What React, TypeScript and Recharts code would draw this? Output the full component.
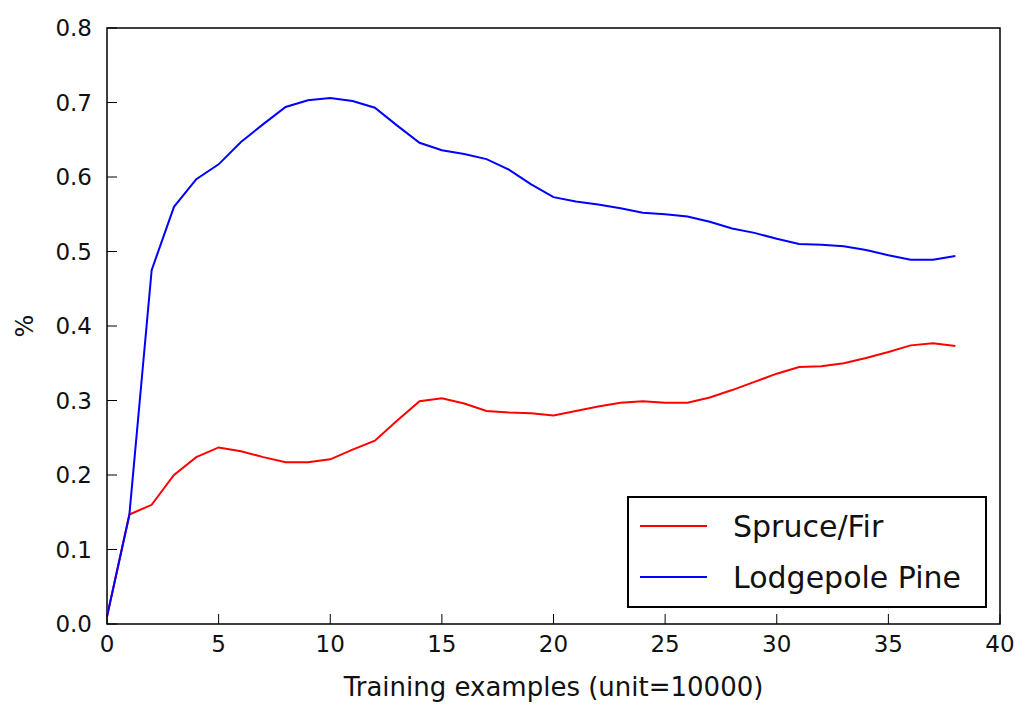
import { LineChart, Line, XAxis, YAxis, ReferenceArea, Legend } from 'recharts'

const steps = [
  0, 1, 2, 3, 4, 5, 6, 7, 8, 9, 10, 11, 12, 13, 14, 15, 16, 17, 18, 19,
  20, 21, 22, 23, 24, 25, 26, 27, 28, 29, 30, 31, 32, 33, 34, 35, 36, 37, 38,
]
const spruceFir = [
  0.01, 0.147, 0.16, 0.2, 0.224, 0.237, 0.232, 0.224, 0.217, 0.217, 0.221, 0.234, 0.246,
  0.273, 0.299, 0.303, 0.296, 0.286, 0.284, 0.283, 0.28, 0.286, 0.292, 0.297, 0.299, 0.297,
  0.297, 0.304, 0.314, 0.325, 0.336, 0.345, 0.346, 0.35, 0.357, 0.365, 0.374, 0.377, 0.373,
]
const lodgepolePine = [
  0.01, 0.146, 0.475, 0.56, 0.597, 0.617, 0.647, 0.671, 0.694, 0.703, 0.706, 0.702, 0.693,
  0.669, 0.646, 0.636, 0.631, 0.624, 0.61, 0.59, 0.573, 0.567, 0.563, 0.558, 0.552, 0.55,
  0.547, 0.54, 0.531, 0.525, 0.517, 0.51, 0.509, 0.507, 0.502, 0.495, 0.489, 0.489, 0.494,
]
const seriesNames = ['Spruce/Fir', 'Lodgepole Pine']
const xTicks = [0, 5, 10, 15, 20, 25, 30, 35, 40]
const yTicks = [0, 0.1, 0.2, 0.3, 0.4, 0.5, 0.6, 0.7, 0.8]

const FONT = '"DejaVu Sans", sans-serif'
const TEXT = '#111'

const data = steps.map((s, i) => ({
  step: s,
  [seriesNames[0]]: spruceFir[i],
  [seriesNames[1]]: lodgepolePine[i],
}))

// matplotlib-style legend box, lower right (keep plotting order)
function renderLegend(props: any) {
  const items = [...(props.payload || [])].sort(
    (a: any, b: any) => seriesNames.indexOf(a.value) - seriesNames.indexOf(b.value)
  )
  return (
    <div
      style={{
        position: 'relative',
        width: 360,
        height: 112,
        border: '2px solid #000',
        boxSizing: 'border-box',
        background: '#fff',
        fontFamily: FONT,
        fontSize: 30,
        color: TEXT,
      }}
    >
      {items.map((it: any, i: number) => (
        <div
          key={it.value}
          style={{
            position: 'absolute',
            left: 0,
            top: 8 + i * 51,
            height: 40,
            display: 'flex',
            alignItems: 'center',
            whiteSpace: 'nowrap',
          }}
        >
          <svg width={104} height={10} style={{ display: 'block' }}>
            <line x1={11} y1={5} x2={78} y2={5} stroke={it.color} strokeWidth={2} />
          </svg>
          <span>{it.value}</span>
        </div>
      ))}
    </div>
  )
}

function YLabel(props: any) {
  const vb = props.viewBox
  const cx = vb.x + 25
  const cy = vb.y + vb.height / 2
  return (
    <text
      x={cx}
      y={cy}
      transform={`rotate(-90 ${cx} ${cy})`}
      textAnchor="middle"
      dominantBaseline="central"
      fontSize={24}
      fill={TEXT}
    >
      %
    </text>
  )
}

export default function App() {
  return (
    <div style={{ position: 'absolute', left: 0, top: 0, background: '#fff', fontFamily: FONT }}>
      <LineChart width={1021} height={708} data={data} margin={{ top: 27, right: 20, left: 0, bottom: 0 }}>
        <XAxis
          dataKey="step"
          type="number"
          domain={[0, 40]}
          ticks={xTicks}
          interval={0}
          height={84}
          axisLine={false}
          tickSize={-10}
          tickMargin={22}
          tickLine={{ stroke: '#000', strokeWidth: 1 }}
          tick={{ fill: TEXT, fontSize: 23 }}
          label={{ value: 'Training examples (unit=10000)', position: 'insideBottom', offset: 12, fill: TEXT, fontSize: 26 }}
        />
        {/* mirrored ticks on the top and right edges, no labels */}
        <XAxis
          xAxisId="top"
          orientation="top"
          dataKey="step"
          type="number"
          domain={[0, 40]}
          ticks={xTicks}
          interval={0}
          height={1}
          axisLine={false}
          tickSize={-10}
          tickLine={{ stroke: '#000', strokeWidth: 1 }}
          tick={false}
        />
        <YAxis
          type="number"
          domain={[0, 0.8]}
          ticks={yTicks}
          interval={0}
          width={107}
          axisLine={false}
          tickSize={-10}
          tickMargin={25}
          tickLine={{ stroke: '#000', strokeWidth: 1 }}
          tick={{ fill: TEXT, fontSize: 23 }}
          tickFormatter={(v: number) => v.toFixed(1)}
          label={{ content: YLabel }}
        />
        <YAxis
          yAxisId="right"
          orientation="right"
          type="number"
          domain={[0, 0.8]}
          ticks={yTicks}
          interval={0}
          width={1}
          axisLine={false}
          tickSize={-10}
          tickLine={{ stroke: '#000', strokeWidth: 1 }}
          tick={false}
        />
        <ReferenceArea
          x1={0}
          x2={40}
          y1={0}
          y2={0.8}
          fill="none"
          stroke="#000"
          strokeWidth={1.5}
          ifOverflow="visible"
        />
        <Line
          type="linear"
          dataKey={seriesNames[0]}
          stroke="#ff0000"
          strokeWidth={2}
          dot={false}
          isAnimationActive={false}
        />
        <Line
          type="linear"
          dataKey={seriesNames[1]}
          stroke="#0000ff"
          strokeWidth={2}
          dot={false}
          isAnimationActive={false}
        />
        <Legend
          layout="vertical"
          align="center"
          verticalAlign="middle"
          content={renderLegend}
          wrapperStyle={{ left: 627, top: 496, width: 360, height: 112 }}
        />
      </LineChart>
    </div>
  )
}
